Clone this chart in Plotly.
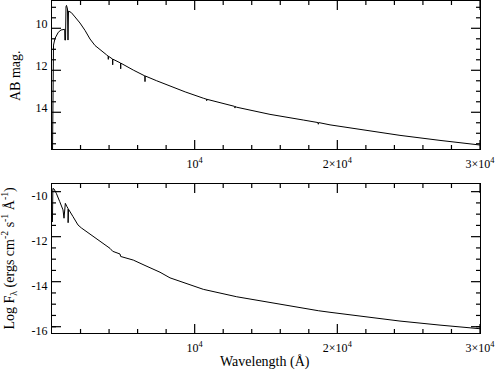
import plotly.graph_objects as go

# ---- data ----
wl_top = [35, 56, 105, 210, 442, 631, 890, 900, 946, 981, 1016, 1086, 1121, 1157,
          1353, 1612, 1963, 2313, 2664, 3014, 3435, 3834, 3940, 3946, 3952, 4065,
          4250, 4255, 4260, 4766, 4810, 4815, 4820, 5699, 6510, 6519, 6528, 7339,
          8271, 9336, 10605, 10840, 10843, 10846, 12800, 12827, 12850, 12946, 15280,
          17614, 18640, 18666, 18690, 19486, 22290, 24392, 27196, 30000]
ab_mag = [16.0, 11.27, 10.80, 10.48, 10.19, 10.08, 10.05, 10.56, 10.56, 8.97, 8.91, 9.08, 10.56, 9.18,
          9.25, 9.46, 9.75, 10.10, 10.51, 10.82, 11.03, 11.27, 11.33, 11.48, 11.33, 11.38,
          11.47, 11.74, 11.47, 11.64, 11.66, 11.93, 11.66, 11.99, 12.27, 12.54, 12.27, 12.50,
          12.75, 13.03, 13.33, 13.38, 13.45, 13.38, 13.72, 13.80, 13.72, 13.76, 14.10,
          14.37, 14.49, 14.57, 14.49, 14.60, 14.89, 15.10, 15.34, 15.56]

wl_bot = [30, 60, 140, 301, 540, 771, 841, 890, 934, 1051, 1121, 1130, 1157, 1472,
          1822, 2054, 2664, 3365, 4066, 4255, 4766, 4815, 5699, 6519, 6637, 7570,
          8271, 10605, 12946, 15280, 17614, 18666, 19486, 22290, 24392, 27196, 30000]
log_f = [-11.35, -9.86, -9.88, -10.07, -10.44, -10.81, -11.18, -10.80, -10.52, -10.67, -10.74, -11.38, -10.78, -11.11,
         -11.48, -11.61, -11.88, -12.22, -12.52, -12.65, -12.77, -12.88, -13.04, -13.28, -13.31, -13.58,
         -13.83, -14.34, -14.67, -14.93, -15.16, -15.29, -15.36, -15.59, -15.75, -15.93, -16.09]

x_tickvals = [10000, 20000, 30000]
x_ticktext = ["10<sup>4</sup>", "2×10<sup>4</sup>", "3×10<sup>4</sup>"]
x_minor = [2000, 4000, 6000, 8000, 12000, 14000, 16000, 18000, 22000, 24000, 26000, 28000]
y1_tickvals = [10, 12, 14]
y1_ticktext = ["10", "12", "14"]
y1_minor = [9, 9.5, 10.5, 11, 11.5, 12.5, 13, 13.5, 14.5, 15, 15.5]
y2_tickvals = [-10, -12, -14, -16]
y2_ticktext = ["-10", "-12", "-14", "-16"]
y2_minor = [-10.5, -11, -11.5, -12.5, -13, -13.5, -14.5, -15, -15.5, -16]

X_RANGE = [0, 30000]
Y1_RANGE = [15.75, 8.70]
Y2_RANGE = [-16.28, -9.66]

FONT = "Liberation Serif, DejaVu Serif, serif"
BLACK = "#000000"

# plot-area sizes in px (to turn tick lengths in px into axis units)
PW, PH = 428.0, 148.0
MAJ, MIN = 9.0, 4.0

fig = go.Figure()
fig.add_trace(go.Scatter(x=wl_top, y=ab_mag, mode="lines",
                         line=dict(color=BLACK, width=1), xaxis="x", yaxis="y",
                         showlegend=False, hoverinfo="skip"))
fig.add_trace(go.Scatter(x=wl_bot, y=log_f, mode="lines",
                         line=dict(color=BLACK, width=1), xaxis="x2", yaxis="y2",
                         showlegend=False, hoverinfo="skip"))


def seg(xa, ya, xs, ys):
    fig.add_trace(go.Scatter(x=xs, y=ys, mode="lines", line=dict(color=BLACK, width=1.2),
                             xaxis=xa, yaxis=ya, showlegend=False, hoverinfo="skip",
                             cliponaxis=False))


def add_ticks(xa, ya, yrng, ymaj, ymin):
    """Inside tick marks on all four sides, built from the tick value lists."""
    dy = (yrng[1] - yrng[0]) / PH
    dx = (X_RANGE[1] - X_RANGE[0]) / PW
    for vals, ln in ((x_tickvals, MAJ), (x_minor, MIN)):
        for v in vals:
            seg(xa, ya, [v, v], [yrng[0], yrng[0] + ln * dy])
            seg(xa, ya, [v, v], [yrng[1], yrng[1] - ln * dy])
    for vals, ln in ((ymaj, MAJ), (ymin, MIN)):
        for v in vals:
            seg(xa, ya, [X_RANGE[0], X_RANGE[0] + ln * dx], [v, v])
            seg(xa, ya, [X_RANGE[1], X_RANGE[1] - ln * dx], [v, v])


add_ticks("x", "y", Y1_RANGE, y1_tickvals, y1_minor)
add_ticks("x2", "y2", Y2_RANGE, y2_tickvals, y2_minor)


def xax(anchor):
    return dict(anchor=anchor, domain=[0, 1], range=X_RANGE,
                tickmode="array", tickvals=x_tickvals, ticktext=x_ticktext,
                ticks="", showline=True, linecolor=BLACK, linewidth=1, mirror=True,
                showgrid=False, zeroline=False, automargin=False,
                ticklabelstandoff=4,
                tickfont=dict(family=FONT, size=12, color=BLACK))


def yax(anchor, domain, rng, tv, tt, shift):
    return dict(anchor=anchor, domain=domain, range=rng,
                tickmode="array", tickvals=tv, ticktext=tt,
                ticks="", showline=True, linecolor=BLACK, linewidth=1, mirror=True,
                showgrid=False, zeroline=False, automargin=False,
                ticklabelstandoff=1, ticklabelshift=shift,
                tickfont=dict(family=FONT, size=12, color=BLACK))


fig.update_layout(
    width=498, height=370, autosize=False,
    margin=dict(l=52, r=18, t=1, b=37, pad=0),
    paper_bgcolor="white", plot_bgcolor="white",
    font=dict(family=FONT, size=12, color=BLACK),
    xaxis=xax("y"),
    xaxis2=xax("y2"),
    yaxis=yax("x", [0.5542, 1], Y1_RANGE, y1_tickvals, y1_ticktext, 4),
    yaxis2=yax("x2", [0, 0.4488], Y2_RANGE, y2_tickvals, y2_ticktext, 4),
    annotations=[
        dict(text="AB mag.", xref="paper", yref="paper", x=-0.0864, y=0.774,
             textangle=-90, showarrow=False, xanchor="center", yanchor="middle",
             font=dict(family=FONT, size=14, color=BLACK)),
        dict(text="Log F<sub>λ</sub> (ergs cm<sup>-2</sup> s<sup>-1</sup> Å<sup>-1</sup>)",
             xref="paper", yref="paper", x=-0.1005, y=0.2274,
             textangle=-90, showarrow=False, xanchor="center", yanchor="middle",
             font=dict(family=FONT, size=14, color=BLACK)),
        dict(text="Wavelength (Å)", xref="paper", yref="paper", x=0.4988, y=-0.0873,
             showarrow=False, xanchor="center", yanchor="middle",
             font=dict(family=FONT, size=14, color=BLACK)),
    ],
)

fig.write_html("out.html", config={"displayModeBar": False},
               post_script="document.body.style.margin='0px';")
